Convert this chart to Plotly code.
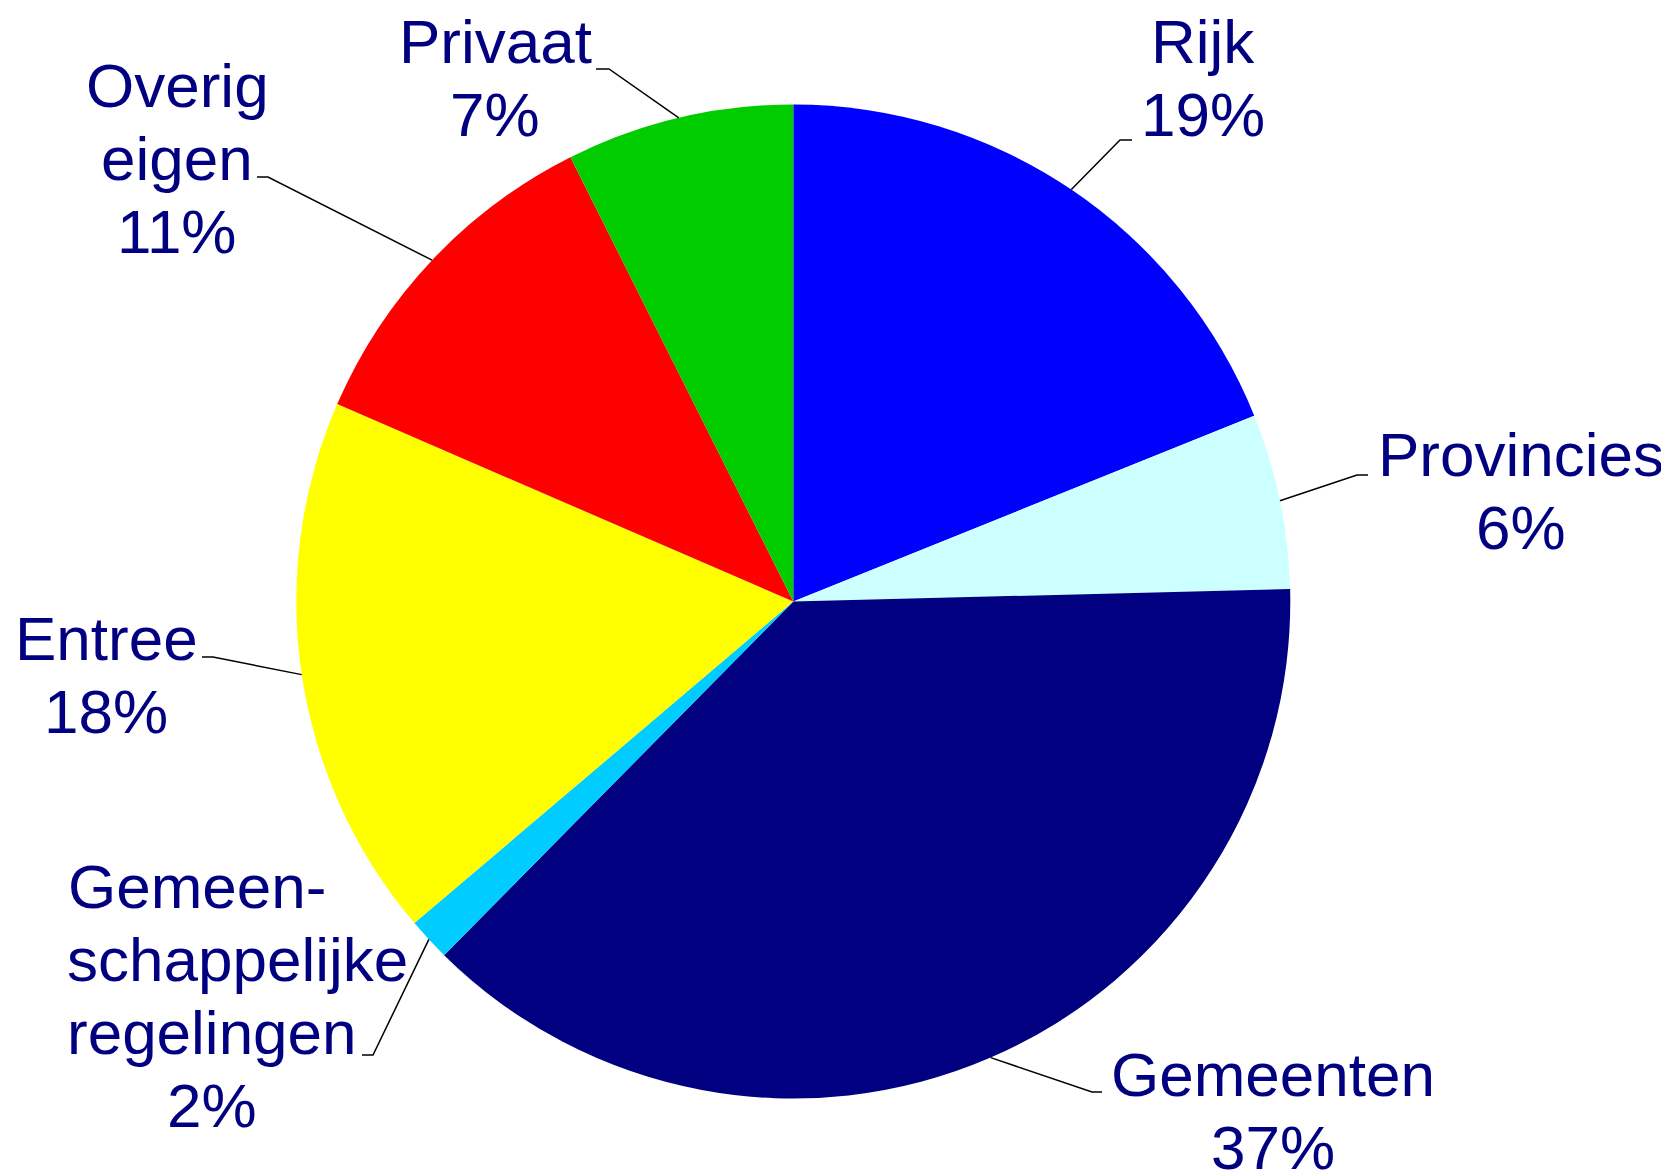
import math
import plotly.graph_objects as go

# ---- data ----
labels = ["Rijk", "Provincies", "Gemeenten", "Gemeen-\nschappelijke\nregelingen",
          "Entree", "Overig\neigen", "Privaat"]
shares = [18.9, 5.7, 37.8, 1.4, 17.7, 11.1, 7.4]
pct_labels = ["19%", "6%", "37%", "2%", "18%", "11%", "7%"]
colors = ["#0000FF", "#CCFFFF", "#000080", "#00CCFF", "#FFFF00", "#FF0000", "#00CC00"]

# ---- layout (page pixels) ----
W, H = 1669, 1171
OFF = 8  # default page body margin
CX, CY, R = 793.3, 601.5, 497.0
FS = 62
LINE_GAP = 73
TEXT_COLOR = "#000080"

label_layout = [
    dict(xs=[1203], base=63, elbow=(1120, 140), end=(1132, 140)),
    dict(xs=[1521], base=476, elbow=(1357, 475), end=(1368, 475)),
    dict(xs=[1273], base=1096, elbow=(1092, 1092), end=(1102, 1092)),
    dict(xs=[197, 238, 212, 212], base=908, elbow=(373, 1055), end=(362, 1055)),
    dict(xs=[106], base=660, elbow=(213, 657), end=(202, 657)),
    dict(xs=[177], base=107, elbow=(268, 177), end=(257, 177)),
    dict(xs=[495], base=63, elbow=(609, 69), end=(596, 69)),
]


def px(x):
    return (x - OFF) / W


def py(y):
    return 1 - (y - OFF) / H


fig = go.Figure(go.Pie(
    labels=[l.replace("\n", " ") for l in labels],
    values=shares,
    sort=False,
    direction="clockwise",
    rotation=0,
    marker=dict(colors=colors, line=dict(width=0)),
    textinfo="none",
    hoverinfo="skip",
    showlegend=False,
    domain=dict(x=[px(CX - R), px(CX + R)], y=[py(CY + R), py(CY - R)]),
))

annotations = []
shapes = []
total = sum(shares)
cum = 0.0
for name, share, pct, lay in zip(labels, shares, pct_labels, label_layout):
    mid = (cum + share / 2) / total * 2 * math.pi
    cum += share
    sx = CX + R * math.sin(mid)
    sy = CY - R * math.cos(mid)
    ex, ey = lay["elbow"]
    tx, ty = lay["end"]
    shapes.append(dict(
        type="path", xref="paper", yref="paper",
        path=f"M {px(sx)} {py(sy)} L {px(ex)} {py(ey)} L {px(tx)} {py(ty)}",
        line=dict(color="black", width=1.5),
    ))
    lines = name.split("\n") + [pct]
    xs = lay["xs"]
    for i, line in enumerate(lines):
        cx = xs[i] if i < len(xs) else xs[-1]
        base = lay["base"] + i * LINE_GAP
        annotations.append(dict(
            x=px(cx), y=py(base - 0.3465 * FS), xref="paper", yref="paper",
            xanchor="center", yanchor="middle", showarrow=False,
            text=line, font=dict(family="Liberation Sans, Arial", size=FS, color=TEXT_COLOR),
        ))

fig.update_layout(
    width=W, height=H,
    margin=dict(l=0, r=0, t=0, b=0),
    paper_bgcolor="white", plot_bgcolor="white",
    annotations=annotations, shapes=shapes,
)

fig.write_html("out.html")
